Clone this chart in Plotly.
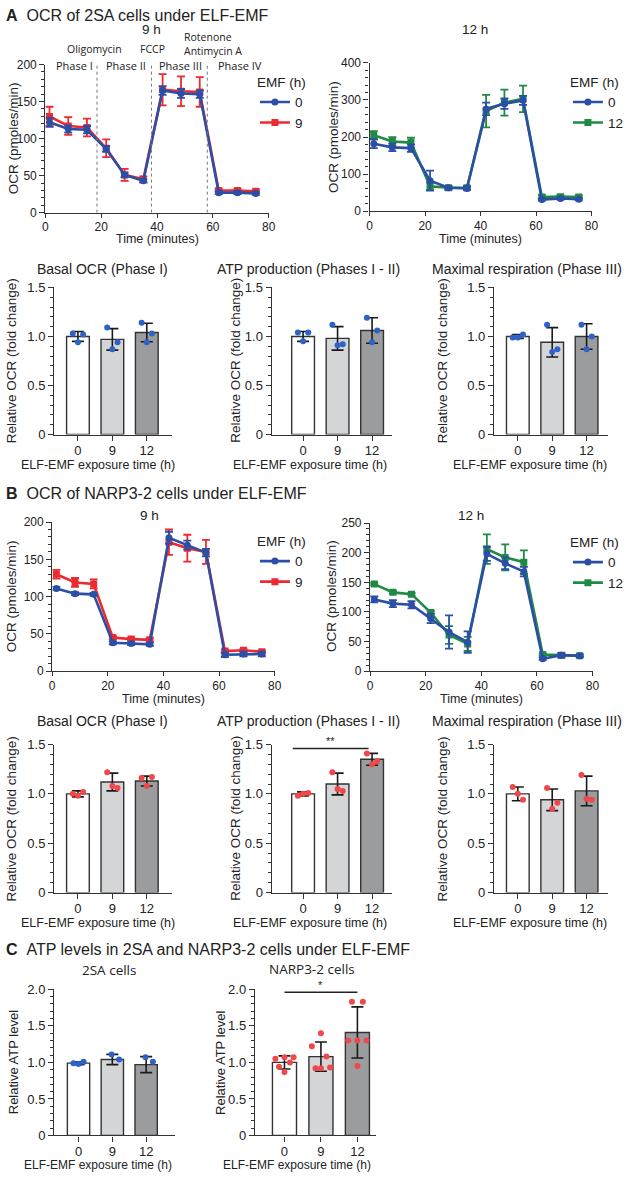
import plotly.graph_objects as go

W, H = 631, 1181

# ---------------- data ----------------
time_min = [1.5, 8.2, 14.9, 21.8, 28.4, 35.1, 42.0, 48.6, 55.3, 62.1, 68.8, 75.4]

# Panel A (2SA) – OCR traces
a9_ctrl = [122, 113, 112, 86, 51, 43, 165, 161, 160, 27, 27, 26]
a9_ctrl_sd = [6, 5, 5, 4, 3, 2, 6, 6, 5, 2, 2, 2]
a9_emf = [130, 117, 115, 87, 51, 45, 166, 164, 163, 30, 30, 29]
a9_emf_sd = [13, 12, 12, 12, 8, 4, 21, 20, 20, 2, 2, 2]

a12_ctrl = [182, 172, 170, 82, 63, 61, 276, 290, 299, 31, 34, 32]
a12_ctrl_sd = [12, 10, 10, 27, 4, 4, 17, 14, 12, 3, 3, 3]
a12_emf = [205, 188, 185, 67, 63, 63, 270, 293, 303, 38, 39, 38]
a12_emf_sd = [11, 12, 13, 10, 5, 5, 44, 35, 36, 5, 4, 4]

# Panel B (NARP3-2) – OCR traces
b9_ctrl = [111, 104, 103, 38, 37, 36, 179, 169, 159, 22, 23, 23]
b9_ctrl_sd = [2, 2, 2, 2, 2, 2, 8, 6, 5, 3, 3, 3]
b9_emf = [130, 119, 117, 45, 43, 42, 173, 165, 160, 27, 28, 26]
b9_emf_sd = [6, 6, 6, 2, 2, 2, 17, 18, 16, 2, 2, 2]

b12_ctrl = [121, 114, 112, 89, 66, 49, 198, 182, 168, 21, 27, 26]
b12_ctrl_sd = [5, 6, 6, 8, 28, 18, 12, 10, 8, 2, 4, 2]
b12_emf = [147, 133, 130, 99, 61, 46, 206, 192, 184, 28, 27, 26]
b12_emf_sd = [2, 2, 2, 3, 15, 12, 25, 22, 20, 2, 2, 2]

# Bar charts
exposure_h = ["0", "9", "12"]

a_basal_mean = [1.00, 0.97, 1.04]
a_basal_sd = [0.05, 0.11, 0.095]
a_basal_pts = [[1.03, 1.02, 0.94], [1.09, 0.94, 0.87], [1.14, 1.03, 0.94]]
a_atp_mean = [1.00, 0.98, 1.06]
a_atp_sd = [0.05, 0.12, 0.13]
a_atp_pts = [[1.04, 1.04, 0.95], [1.12, 0.92, 0.91], [1.19, 1.06, 0.94]]
a_max_mean = [1.00, 0.94, 1.00]
a_max_sd = [0.02, 0.15, 0.13]
a_max_pts = [[0.99, 1.02, 0.99], [1.12, 0.87, 0.84], [1.12, 1.00, 0.87]]

b_basal_mean = [1.00, 1.12, 1.13]
b_basal_sd = [0.03, 0.09, 0.05]
b_basal_pts = [[1.00, 1.02, 0.98], [1.22, 1.06, 1.08], [1.16, 1.17, 1.08]]
b_atp_mean = [1.00, 1.10, 1.35]
b_atp_sd = [0.02, 0.11, 0.06]
b_atp_pts = [[0.98, 1.01, 1.00], [1.22, 1.03, 1.05], [1.41, 1.33, 1.30]]
b_max_mean = [1.00, 0.94, 1.03]
b_max_sd = [0.07, 0.11, 0.15]
b_max_pts = [[1.07, 0.94, 1.00], [1.06, 0.91, 0.85], [1.19, 0.94, 0.95]]

c_2sa_mean = [0.99, 1.04, 0.97]
c_2sa_sd = [0.02, 0.07, 0.11]
c_2sa_pts = [[0.99, 1.01, 0.98], [1.11, 1.04], [1.07, 1.01]]
c_narp_mean = [1.00, 1.08, 1.41]
c_narp_sd = [0.09, 0.20, 0.35]
c_narp_pts = [[1.05, 1.07, 1.07, 0.94, 1.00, 0.87],
              [1.22, 1.40, 0.93, 0.92, 1.08, 0.92],
              [1.30, 1.30, 1.30, 1.83, 1.83, 0.95]]

# ---------------- style ----------------
FONT = "Arial, Liberation Sans, sans-serif"
FONT2 = "Open Sans, Noto Sans, sans-serif"
TXT = "#222222"
AX = "#333333"
BLUE = "#2b4fa6"
RED = "#ec2a2f"
GREEN = "#1f8a43"
PT_BLUE = "#2e62c6"
PT_RED = "#f2474a"
BAR_FILLS = ["#ffffff", "#d4d5d7", "#9b9c9e"]
JITTER = {2: [-0.02, 0.2], 3: [-0.15, 0.15, 0.0], 6: [-0.25, 0.0, 0.25, -0.15, 0.15, 0.0]}

fig = go.Figure()
lay = dict(width=W, height=H, margin=dict(l=0, r=0, t=0, b=0),
           paper_bgcolor="white", plot_bgcolor="white",
           font=dict(family=FONT, color=TXT), showlegend=True)
annotations = []
shapes = []
counter = [0]


def text(x, y, s, size, family=FONT, angle=0, xanchor="center", align="center"):
    annotations.append(dict(x=x / W, y=1 - y / H, xref="paper", yref="paper", text=s,
                            showarrow=False, textangle=angle, xanchor=xanchor, yanchor="middle",
                            align=align, borderpad=0, font=dict(size=size, family=family, color=TXT)))


def make_axes(xpx, ypx, xr, yr, tickfont):
    counter[0] += 1
    n = counter[0]
    sfx = "" if n == 1 else str(n)
    common = dict(showline=True, linecolor=AX, linewidth=1.3, ticks="outside", ticklen=5,
                  tickwidth=1.3, tickcolor=AX, showgrid=False, zeroline=False, fixedrange=True,
                  tickfont=dict(size=tickfont, color=TXT))
    lay["xaxis" + sfx] = dict(domain=[xpx[0] / W, xpx[1] / W], range=xr, anchor="y" + sfx, **common)
    lay["yaxis" + sfx] = dict(domain=[1 - ypx[1] / H, 1 - ypx[0] / H], range=yr, anchor="x" + sfx, **common)
    return "x" + sfx, "y" + sfx, "xaxis" + sfx, "yaxis" + sfx


def line_panel(xpx, ypx, ymax, dtick, minor, series, legend_key, legend_xy):
    xa, ya, xk, yk = make_axes(xpx, ypx, [0, 80], [0, ymax], 12)
    lay[xk].update(tickvals=[0, 20, 40, 60, 80], ticklen=4, ticklabelstandoff=-1)
    lay[yk].update(tick0=0, dtick=dtick,
                   minor=dict(ticks="outside", ticklen=3, tickwidth=1, tickcolor=AX, tick0=0, dtick=minor))
    for name, vals, sd, color, symbol, rank in series:
        fig.add_trace(go.Scatter(x=time_min, y=vals, mode="lines+markers", name=name,
                                 line=dict(color=color, width=2.6),
                                 marker=dict(symbol=symbol, size=7, color=color),
                                 error_y=dict(type="data", array=sd, color=color, thickness=1.8, width=4),
                                 xaxis=xa, yaxis=ya, legend=legend_key, legendrank=rank))
    lay[legend_key] = dict(x=legend_xy[0] / W, y=1 - legend_xy[1] / H, xanchor="left", yanchor="top",
                           bgcolor="rgba(0,0,0,0)", font=dict(size=13.5, color=TXT),
                           title=dict(text="EMF (h)", font=dict(size=13.5, color=TXT)),
                           tracegroupgap=0, itemwidth=30)
    return xa, ya


def bar_panel(xpx, ypx, xr, ymax, means, sds, pts, ptcolor):
    xa, ya, xk, yk = make_axes(xpx, ypx, xr, [0, ymax], 13)
    lay[xk].update(tickvals=[0, 1, 2], ticktext=exposure_h, ticklabelstandoff=-1)
    yt = [v / 2 for v in range(int(ymax * 2) + 1)]
    lay[yk].update(tickvals=yt, ticktext=["0" if v == 0 else f"{v:.1f}" for v in yt],
                   minor=dict(ticks="outside", ticklen=3, tickwidth=1, tickcolor=AX, tick0=0, dtick=0.1))
    fig.add_trace(go.Bar(x=[0, 1, 2], y=means, width=0.66,
                         marker=dict(color=BAR_FILLS, line=dict(color=AX, width=1.4)),
                         error_y=dict(type="data", array=sds, color="#1a1a1a", thickness=1.6, width=6),
                         xaxis=xa, yaxis=ya, showlegend=False))
    px_, py_ = [], []
    for i, grp in enumerate(pts):
        jit = JITTER[len(grp)]
        for j, v in enumerate(grp):
            px_.append(i + jit[j])
            py_.append(v)
    fig.add_trace(go.Scatter(x=px_, y=py_, mode="markers", marker=dict(size=6, color=ptcolor),
                             xaxis=xa, yaxis=ya, showlegend=False))
    return xa, ya


# ---------------- Panel A ----------------
text(2, 9, "<b>A</b>\u00a0\u00a0OCR of 2SA cells under ELF-EMF", 16, xanchor="left")
xa, ya = line_panel((43, 270), (58.3, 208.3), 200, 50, 10,
                    [("9", a9_emf, a9_emf_sd, RED, "square", 2),
                     ("0", a9_ctrl, a9_ctrl_sd, BLUE, "circle", 1)], "legend", (256, 63))
for xv in [18.5, 38, 58]:
    shapes.append(dict(type="line", xref=xa, yref=ya, x0=xv, x1=xv, y0=0, y1=200,
                       line=dict(color="#777777", width=1, dash="dot")))
text(151, 23, "9 h", 13.5)
text(92.5, 43, "Oligomycin", 10.5, FONT2)
text(151.5, 43, "FCCP", 10.5, FONT2)
text(183, 37, "Rotenone<br>Antimycin A", 10.5, FONT2, xanchor="left", align="left")
for xp, lbl in [(72.5, "Phase I"), (125, "Phase II"), (180, "Phase III"), (241, "Phase IV")]:
    text(xp, 59, lbl, 11, FONT2)
text(157, 235, "Time (minutes)", 12.5)
text(10, 133, "OCR (pmoles/min)", 13.5, angle=-90)

line_panel((372.5, 598), (56.7, 206.7), 400, 100, 20,
           [("12", a12_emf, a12_emf_sd, GREEN, "square", 2),
            ("0", a12_ctrl, a12_ctrl_sd, BLUE, "circle", 1)], "legend2", (574, 63))
text(480, 23, "12 h", 13.5)
text(485, 235, "Time (minutes)", 12.5)
text(336, 132, "OCR (pmoles/min)", 13.5, angle=-90)

ytitle_bar = "Relative OCR (fold change)"
bar_cfg_A = [((52, 172), (-0.69, 2.74), "Basal OCR (Phase I)", 101, 97, 9,
              a_basal_mean, a_basal_sd, a_basal_pts),
             ((273, 395), (-0.91, 2.57), "ATP production (Phases I - II)", 310, 312, 236,
              a_atp_mean, a_atp_sd, a_atp_pts),
             ((499, 615), (-0.69, 2.63), "Maximal respiration (Phase III)", 532, 535, 447,
              a_max_mean, a_max_sd, a_max_pts)]
for xpx, xr, ttl, tx, xtx, ytx, m, s, p in bar_cfg_A:
    bar_panel(xpx, (284, 433), list(xr), 1.5, m, s, p, PT_BLUE)
    text(tx, 265, ttl, 14)
    text(xtx, 464, "ELF-EMF exposure time (h)", 12.5)
    text(ytx, 358, ytitle_bar, 13.5, angle=-90)

# ---------------- Panel B ----------------
text(2, 493, "<b>B</b>\u00a0\u00a0OCR of NARP3-2 cells under ELF-EMF", 16, xanchor="left")
line_panel((50, 276), (521.7, 672.7), 200, 50, 10,
           [("9", b9_emf, b9_emf_sd, RED, "square", 2),
            ("0", b9_ctrl, b9_ctrl_sd, BLUE, "circle", 1)], "legend3", (256, 528))
text(149, 515, "9 h", 13.5)
text(163, 701, "Time (minutes)", 12.5)
text(9, 597, "OCR (pmoles/min)", 13.5, angle=-90)

line_panel((373, 599), (522.7, 672.7), 250, 50, 10,
           [("12", b12_emf, b12_emf_sd, GREEN, "square", 2),
            ("0", b12_ctrl, b12_ctrl_sd, BLUE, "circle", 1)], "legend4", (574, 529))
text(476, 515, "12 h", 13.5)
text(486, 701, "Time (minutes)", 12.5)
text(334, 597, "OCR (pmoles/min)", 13.5, angle=-90)

bar_cfg_B = [((52, 172), (-0.69, 2.74), "Basal OCR (Phase I)", 101, 97, 9,
              b_basal_mean, b_basal_sd, b_basal_pts),
             ((273, 395), (-0.91, 2.57), "ATP production (Phases I - II)", 310, 312, 236,
              b_atp_mean, b_atp_sd, b_atp_pts),
             ((499, 615), (-0.69, 2.63), "Maximal respiration (Phase III)", 532, 535, 447,
              b_max_mean, b_max_sd, b_max_pts)]
b_axes = []
for xpx, xr, ttl, tx, xtx, ytx, m, s, p in bar_cfg_B:
    b_axes.append(bar_panel(xpx, (747, 897), list(xr), 1.5, m, s, p, PT_RED))
    text(tx, 723, ttl, 14)
    text(xtx, 928, "ELF-EMF exposure time (h)", 12.5)
    text(ytx, 822, ytitle_bar, 13.5, angle=-90)
bxa, bya = b_axes[1]
shapes.append(dict(type="line", xref=bxa, yref=bya, x0=-0.3, x1=1.9, y0=1.46, y1=1.46,
                   line=dict(color="#222222", width=1.5)))
annotations.append(dict(x=0.8, y=1.46, xref=bxa, yref=bya, text="**", showarrow=False,
                        yanchor="bottom", borderpad=0, font=dict(size=11, color=TXT)))

# ---------------- Panel C ----------------
text(2, 955, "<b>C</b>\u00a0\u00a0ATP levels in 2SA and NARP3-2 cells under ELF-EMF", 16, xanchor="left")
bar_panel((52, 175), (995, 1143), [-0.72, 2.86], 2.0, c_2sa_mean, c_2sa_sd, c_2sa_pts, PT_BLUE)
text(108, 975, "2SA cells", 13.5, FONT2)
text(97, 1173, "ELF-EMF exposure time (h)", 12)
text(11, 1069, "Relative ATP level", 13, angle=-90)
cxa, cya = bar_panel((256, 379), (995, 1143), [-0.81, 2.51], 2.0, c_narp_mean, c_narp_sd, c_narp_pts, PT_RED)
text(314, 974, "NARP3-2 cells", 13.5, FONT2)
text(299, 1173, "ELF-EMF exposure time (h)", 12)
text(221, 1069, "Relative ATP level", 13, angle=-90)
shapes.append(dict(type="line", xref=cxa, yref=cya, x0=0.0, x1=2.0, y0=1.96, y1=1.96,
                   line=dict(color="#222222", width=1.5)))
annotations.append(dict(x=1.0, y=1.96, xref=cxa, yref=cya, text="*", showarrow=False,
                        yanchor="bottom", borderpad=0, font=dict(size=11, color=TXT)))

lay["annotations"] = annotations
lay["shapes"] = shapes
fig.update_layout(**lay)
fig.write_html("out.html")
